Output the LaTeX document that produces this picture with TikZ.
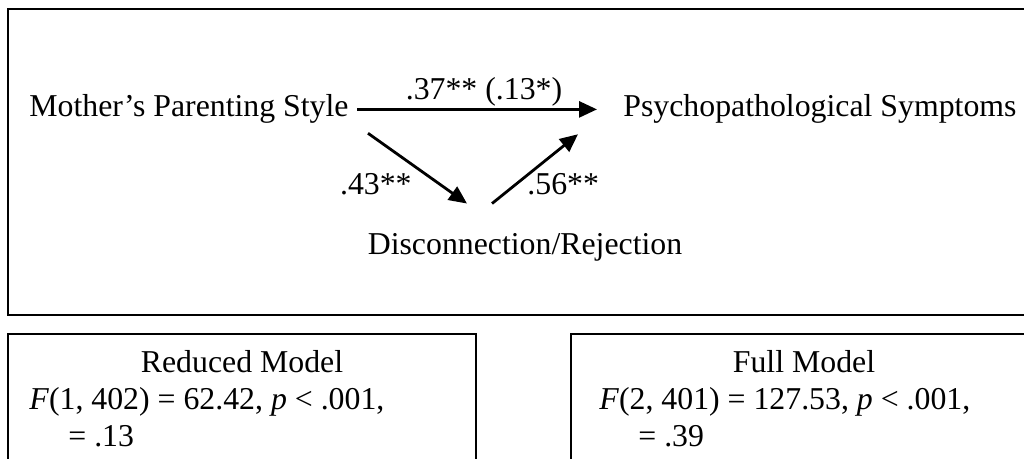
\documentclass[tikz,border=0pt]{standalone}
\usepackage{fontspec}
\setmainfont{Liberation Serif}
\usetikzlibrary{arrows.meta,calc}

\begin{document}
\begin{tikzpicture}[x=0.5pt,y=-0.5pt,frame/.style={draw=black, line width=1pt},txt/.style={font=\fontsize{15.9}{18.5}\selectfont, inner sep=0pt},path/.style={line width=1.4pt, -{Triangle[length=9pt,width=8pt]}},stat/.style={txt, anchor=base west}]
\clip (0,0) rectangle (1024,459);
\fill[white] (0,0) rectangle (1024,459);
% mediation model
\draw[frame] (8,9) rectangle (1040,315);
\node[txt, anchor=base east] (mother) at (349,117) {Mother's Parenting Style};
\node[txt, anchor=base west] (psych) at (623,117) {Psychopathological Symptoms};
\node[txt, anchor=base] (disc) at (525,255) {Disconnection/Rejection};
\coordinate (aStart) at ($(mother.south east)+(19,9)$);
\coordinate (aEnd) at ($(disc.north)+(-58,-30)$);
\coordinate (bStart) at ($(disc.north)+(-33,-30)$);
\coordinate (bEnd) at ($(psych.south west)+(-45,10)$);
\draw[path, shorten <=4pt, shorten >=13pt] (mother.east) -- (mother.east -| psych.west);
\draw[path] (aStart) -- (aEnd);
\draw[path] (bStart) -- (bEnd);
\node[txt, anchor=base] (cTotal) at (484,100) {.37** (.13*)};
\node[txt, anchor=base east] (cA) at (412,195) {.43**};
\node[txt, anchor=base west] (cB) at (527,195) {.56**};
% model tests
\draw[frame] (8,334) rectangle (476,470);
\draw[frame] (571,334) rectangle (1040,470);
\node[txt, anchor=base] (redTitle) at (242,373) {Reduced Model};
\node[stat] (redF) at (29,410) {\textit{F}(1, 402) = 62.42, \textit{p} < .001,};
\node[stat] (redR) at (68,447) {= .13};
\node[txt, anchor=base] (fullTitle) at (804,373) {Full Model};
\node[stat] (fullF) at (599,410) {\textit{F}(2, 401) = 127.53, \textit{p} < .001,};
\node[stat] (fullR) at (638,447) {= .39};
\end{tikzpicture}
\end{document}
